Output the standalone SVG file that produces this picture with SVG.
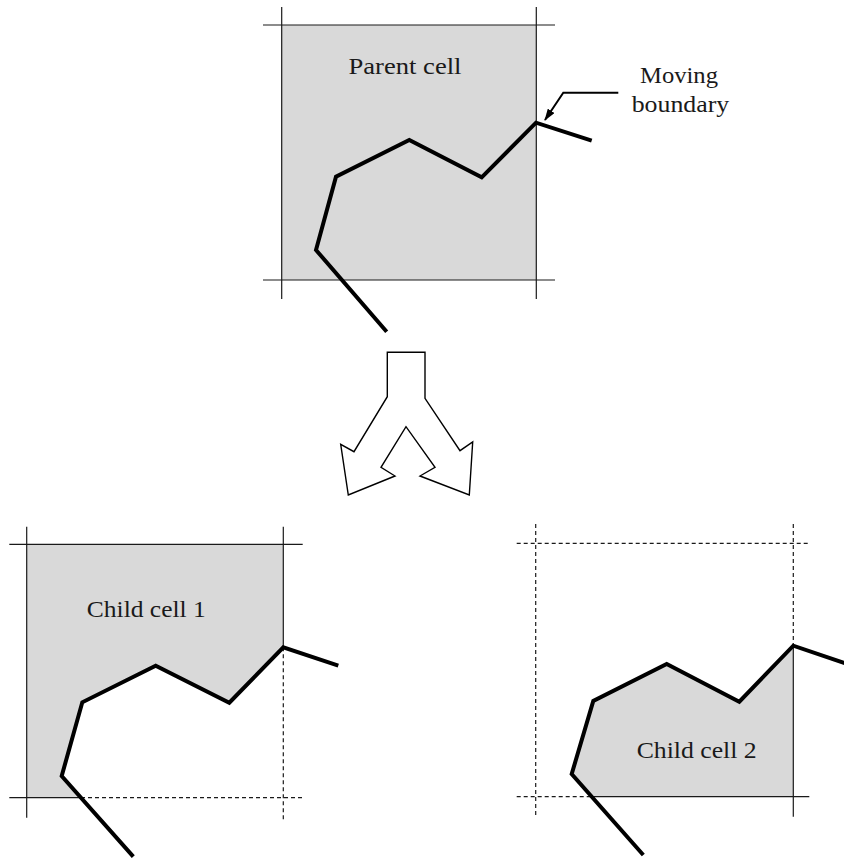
<svg xmlns="http://www.w3.org/2000/svg" width="844" height="858" viewBox="0 0 844 858">
<style>
.fill{fill:#d9d9d9;stroke:none}
.grid{stroke:#1a1a1a;stroke-width:1.2;fill:none}
.dash{stroke:#1a1a1a;stroke-width:1.2;fill:none;stroke-dasharray:4 3}
.bnd{stroke:#000;stroke-width:4;fill:none;stroke-linejoin:miter;stroke-miterlimit:10}
.lbl{font-family:"Liberation Serif","Times New Roman",serif;font-size:23px;fill:#1a1a1a;text-anchor:middle}
.split{fill:#fff;stroke:#000;stroke-width:1.4;stroke-linejoin:miter}
</style>
<defs>
<marker id="ah" markerWidth="12" markerHeight="8" refX="11" refY="4" orient="auto" markerUnits="userSpaceOnUse">
<path d="M0,0 L12,4 L0,8 Z" fill="#000"/>
</marker>
</defs>
<g id="parent-cell">
<rect class="fill" x="281.7" y="25" width="254.6" height="255"/>
<line class="grid" x1="263" y1="25" x2="555" y2="25"/>
<line class="grid" x1="263" y1="280" x2="555" y2="280"/>
<line class="grid" x1="281.7" y1="7" x2="281.7" y2="299"/>
<line class="grid" x1="536.3" y1="7" x2="536.3" y2="299"/>
<polyline class="bnd" points="386.7,331.7 316,250 336,176.7 409.3,140 481.7,177.3 536,122.7 591.7,140.7"/>
<text class="lbl" x="405" y="74" textLength="113" lengthAdjust="spacingAndGlyphs">Parent cell</text>
</g>
<g id="moving-boundary-label">
<text class="lbl" x="679" y="83.3" textLength="78" lengthAdjust="spacingAndGlyphs">Moving</text>
<text class="lbl" x="680.5" y="112.3" textLength="97.6" lengthAdjust="spacingAndGlyphs">boundary</text>
</g>
<g id="split-arrow">
<polygon class="split" points="387.3,352.3 425,352.3 425,398.3 460,450.7 472.7,442 469.3,495 420,476 435,467.3 406,426.7 381,467.3 395,476 348.3,495 340.7,444.3 354,451.7 387.3,396.7"/>
</g>
<g id="child-cell-1">
<polygon class="fill" points="26.7,544.3 283.3,544.3 283.3,647.3 229.3,702.7 155.7,665.7 82.3,702.3 61.7,776 81,797.7 26.7,797.7"/>
<line class="grid" x1="9.3" y1="544.3" x2="302.7" y2="544.3"/>
<line class="grid" x1="26.7" y1="526.7" x2="26.7" y2="817.7"/>
<line class="grid" x1="283.3" y1="526.7" x2="283.3" y2="647.3"/>
<line class="dash" x1="283.3" y1="647.3" x2="283.3" y2="820"/>
<line class="grid" x1="9.3" y1="797.7" x2="81" y2="797.7"/>
<line class="dash" x1="81" y1="797.7" x2="302.7" y2="797.7"/>
<polyline class="bnd" points="133.3,856.7 61.7,776 82.3,702.3 155.7,665.7 229.3,702.7 283.3,647.3 338.3,665.7"/>
<text class="lbl" x="146.3" y="616.7" textLength="119" lengthAdjust="spacingAndGlyphs">Child cell 1</text>
</g>
<g id="child-cell-2">
<polygon class="fill" points="591.8,796.7 571.7,774 593.3,701 666.7,664 739.3,701.7 793.3,645.7 793.3,796.7"/>
<line class="dash" x1="516.7" y1="543.3" x2="809.3" y2="543.3"/>
<line class="dash" x1="535.7" y1="524" x2="535.7" y2="815"/>
<line class="dash" x1="793.3" y1="524" x2="793.3" y2="645.7"/>
<line class="grid" x1="793.3" y1="645.7" x2="793.3" y2="816.7"/>
<line class="dash" x1="516.7" y1="796.7" x2="591.8" y2="796.7"/>
<line class="grid" x1="591.8" y1="796.7" x2="809.3" y2="796.7"/>
<polyline class="bnd" points="643.3,855 571.7,774 593.3,701 666.7,664 739.3,701.7 793.3,645.7 846,663.5"/>
<text class="lbl" x="696.7" y="757.7" textLength="120" lengthAdjust="spacingAndGlyphs">Child cell 2</text>
</g>
<g id="connectors">
<polyline points="618.3,92.7 563.3,92.7 545,120" fill="none" stroke="#000" stroke-width="2" marker-end="url(#ah)"/>
</g>
</svg>
